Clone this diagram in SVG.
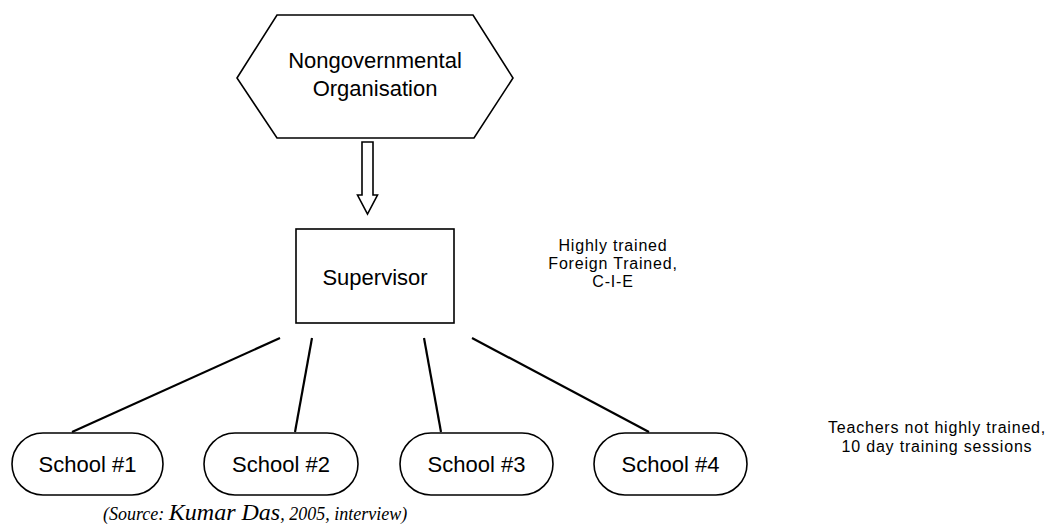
<svg xmlns="http://www.w3.org/2000/svg" width="1054" height="529" viewBox="0 0 1054 529">
<style>
.shape{fill:#fff;stroke:#000;stroke-width:1.6}
.lbl{font-family:"Liberation Sans",Arial,sans-serif;font-size:22px;fill:#000;text-anchor:middle}
.note{font-family:"Liberation Sans",Arial,sans-serif;font-size:16px;letter-spacing:0.8px;fill:#000;text-anchor:middle}
.conn{stroke:#000;stroke-width:2.2;fill:none}
.src{font-family:"Liberation Serif","Times New Roman",serif;font-style:italic;font-size:18px;fill:#000}
</style>
<rect width="1054" height="529" fill="#fff"/>
<g id="ngo">
<polygon class="shape" points="237,78 277,15 473,15 513,78 474,138 277,138"/>
<text class="lbl" x="375" y="68">Nongovernmental</text>
<text class="lbl" x="375" y="96">Organisation</text>
</g>
<g id="connectors">
<polygon class="shape" points="362,142 373,142 373,195 377.5,195 367.5,214 357.5,195 362,195"/>
<line class="conn" x1="280" y1="338" x2="72" y2="432"/>
<line class="conn" x1="312" y1="338" x2="295" y2="432"/>
<line class="conn" x1="424" y1="338" x2="441" y2="432"/>
<line class="conn" x1="472" y1="338" x2="649" y2="432"/>
</g>
<g id="supervisor">
<rect class="shape" x="296" y="229" width="158" height="94"/>
<text class="lbl" x="375" y="285" font-size="23">Supervisor</text>
</g>
<g id="supervisor-note">
<text class="note" x="613" y="251">Highly trained</text>
<text class="note" x="613" y="269">Foreign Trained,</text>
<text class="note" x="613" y="287">C-I-E</text>
</g>
<g id="school1">
<rect class="shape" x="12" y="433" width="151" height="62" rx="31" ry="31"/>
<text class="lbl" x="87.5" y="472">School #1</text>
</g>
<g id="school2">
<rect class="shape" x="204" y="433" width="154" height="62" rx="31" ry="31"/>
<text class="lbl" x="281" y="472">School #2</text>
</g>
<g id="school3">
<rect class="shape" x="400" y="433" width="153" height="62" rx="31" ry="31"/>
<text class="lbl" x="476.5" y="472">School #3</text>
</g>
<g id="school4">
<rect class="shape" x="594" y="433" width="153" height="62" rx="31" ry="31"/>
<text class="lbl" x="670.5" y="472">School #4</text>
</g>
<g id="teachers-note">
<text class="note" x="937" y="433">Teachers not highly trained,</text>
<text class="note" x="937" y="452">10 day training sessions</text>
</g>
<text class="src" x="103" y="520">(Source: <tspan font-size="24">Kumar Das</tspan>, 2005, interview)</text>
</svg>
